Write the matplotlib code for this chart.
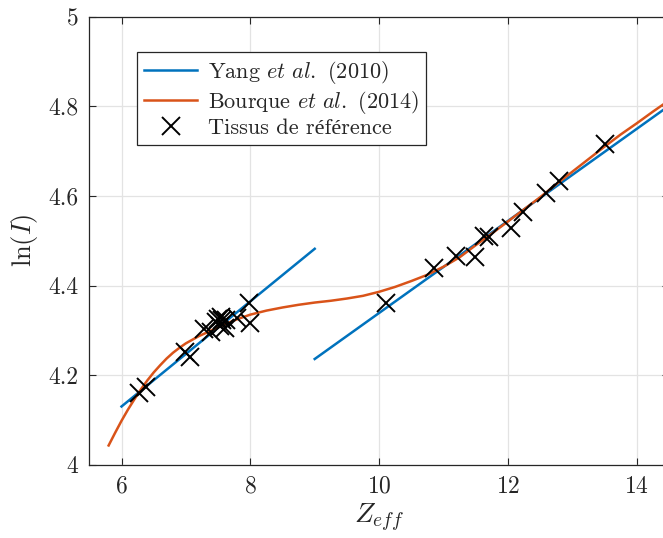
import numpy as np
import matplotlib
matplotlib.use('Agg')
from matplotlib import pyplot as plt

plt.rcParams['font.family'] = ['cmr10', 'Liberation Serif']
plt.rcParams['mathtext.fontset'] = 'cm'
plt.rcParams['axes.formatter.use_mathtext'] = True

# Yang et al. (2010) - two linear pieces
yang1_x = [6.0, 9.0]
yang1_y = [4.130, 4.482]
yang2_x = [9.0, 14.5]
yang2_y = [4.236, 4.801]

# Bourque et al. (2014)
bourque_x = [5.8, 5.9, 6.0, 6.1, 6.2, 6.3, 6.4, 6.5, 6.6, 6.7, 6.8, 6.9, 7.0,
             7.2, 7.4, 7.6, 7.8, 8.0, 8.25, 8.5, 8.75, 9.0, 9.25, 9.5, 9.75,
             10.0, 10.25, 10.5, 10.75, 11.0, 11.25, 11.5, 11.75, 12.0, 12.25,
             12.5, 12.75, 13.0, 13.25, 13.5, 13.75, 14.0, 14.25, 14.5]
bourque_y = [4.043, 4.071, 4.098, 4.123, 4.146, 4.168, 4.188, 4.206, 4.222,
             4.237, 4.250, 4.261, 4.271, 4.287, 4.300, 4.313, 4.325, 4.335,
             4.344, 4.351, 4.357, 4.362, 4.366, 4.371, 4.377, 4.386, 4.397,
             4.410, 4.424, 4.442, 4.463, 4.490, 4.516, 4.543, 4.570, 4.597,
             4.626, 4.654, 4.682, 4.710, 4.737, 4.762, 4.788, 4.813]

# reference tissues
tissue_z = [6.27, 6.38, 6.98, 7.07, 7.28, 7.39, 7.46, 7.50, 7.53, 7.56, 7.60,
            7.63, 7.55, 7.80, 7.98, 8.00, 10.10, 10.85, 11.20, 11.49, 11.63,
            11.71, 12.05, 12.23, 12.59, 12.80, 13.51]
tissue_ln = [4.159, 4.173, 4.252, 4.241, 4.304, 4.297, 4.318, 4.325, 4.310,
             4.322, 4.305, 4.324, 4.330, 4.327, 4.360, 4.316, 4.362, 4.440,
             4.466, 4.463, 4.510, 4.508, 4.528, 4.565, 4.607, 4.634, 4.717]

blue = '#0072BD'
orange = '#D95319'
dark = '#262626'

fig = plt.figure(figsize=(6.63, 5.38), dpi=100)
ax = fig.add_axes([0.1347, 0.1362, 0.8742, 0.8327])

ax.plot(yang1_x, yang1_y, color=blue, lw=1.8, label='Yang $\\mathit{et\\ al.}$ (2010)')
ax.plot(yang2_x, yang2_y, color=blue, lw=1.8)
ax.plot(bourque_x, bourque_y, color=orange, lw=1.8, label='Bourque $\\mathit{et\\ al.}$ (2014)')
ax.plot(tissue_z, tissue_ln, 'x', color='k', ms=12.5, mew=1.4, label='Tissus de référence')

ax.set_xlim(5.5, 14.5)
ax.set_ylim(4, 5)
ax.set_xticks([6, 8, 10, 12, 14])
ax.set_yticks([4, 4.2, 4.4, 4.6, 4.8, 5])
ax.set_yticklabels(['4', '4.2', '4.4', '4.6', '4.8', '5'])
ax.grid(True, color='#e3e3e3', lw=0.9)
ax.set_axisbelow(True)
ax.tick_params(direction='in', top=True, right=True, length=5, width=0.8,
               colors=dark, labelsize=17, pad=8)
for s in ax.spines.values():
    s.set_color(dark)
    s.set_linewidth(0.9)

ax.set_xlabel('$Z_{eff}$', fontsize=20, color=dark, labelpad=3)
ax.set_ylabel('$\\ln(I)$', fontsize=19, color=dark, labelpad=6)

leg = ax.legend(loc='upper left', bbox_to_anchor=(137.3 / 663, 1 - 52.3 / 538),
                bbox_transform=fig.transFigure, borderaxespad=0, fontsize=16,
                fancybox=False, framealpha=1, edgecolor=dark, handlelength=2.4,
                handletextpad=0.5, labelspacing=0.12, borderpad=0.3)
leg.get_frame().set_linewidth(0.9)
for t in leg.get_texts():
    t.set_color(dark)

fig.savefig('out.png', dpi=100)
